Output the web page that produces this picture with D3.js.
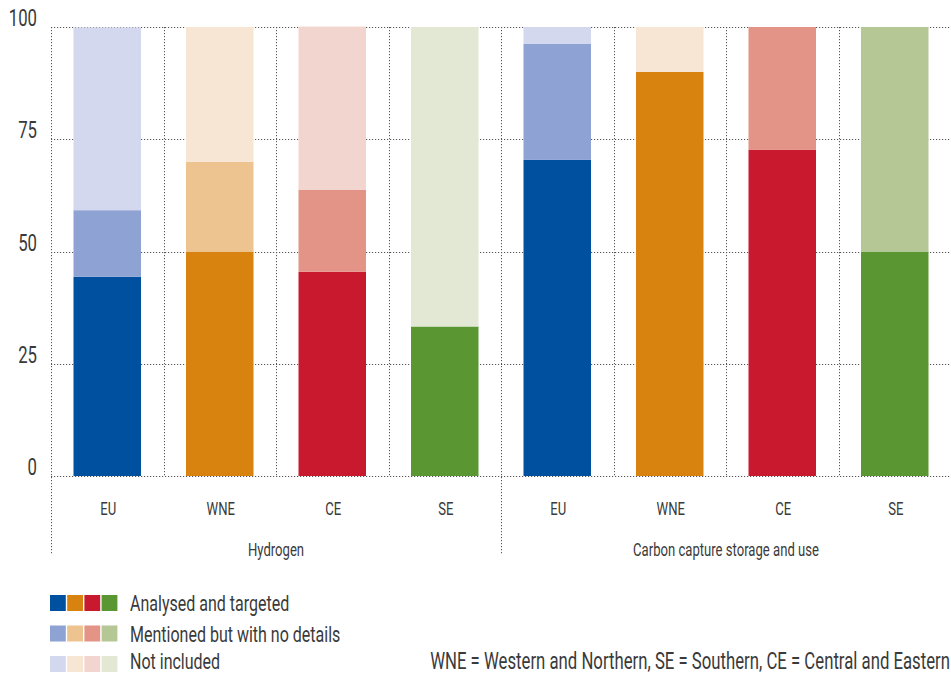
<!DOCTYPE html>
<html><head><meta charset="utf-8">
<script src="https://cdn.jsdelivr.net/npm/d3@7"></script>
<style>
body{margin:0;background:#fff;}
text{font-family:Roboto,"Liberation Sans",sans-serif;fill:#3a3a3a;}
</style></head><body>
<svg id="chart" width="951" height="676"></svg>
<script>
const groups = ["Hydrogen", "Carbon capture storage and use"];
const categories = ["EU", "WNE", "CE", "SE"];
// values per group, in category order (% of plans)
const analysed = [[44.4, 50, 45.5, 33.3], [70.4, 90, 72.7, 50]];
const mentioned = [[14.8, 20, 18.2, 0], [25.9, 0, 27.3, 50]];
const notIncluded = [[40.7, 30, 36.4, 66.7], [3.7, 10, 0, 0]];
const yTicks = [0, 25, 50, 75, 100];
const seriesNames = ["Analysed and targeted", "Mentioned but with no details", "Not included"];
const colors = {
  EU: ["#0050a0", "#8fa2d4", "#d3d8ee"],
  WNE: ["#d8820f", "#edc38f", "#f8e6d4"],
  CE: ["#c8192e", "#e49387", "#f3d5cf"],
  SE: ["#5a9632", "#b5c795", "#e3e8d5"]
};
const footnote = "WNE = Western and Northern, SE = Southern, CE = Central and Eastern";

const svg = d3.select("#chart");
const mLeft = 51, mRight = 951, mTop = 27, mBottom = 476;

// condensed-text factor: measure footnote at legend size, fit to reference width
const probe = svg.append("text").attr("font-size", 23).text(footnote);
const K = 520 / probe.node().getComputedTextLength();
probe.remove();

function addText(parent, px, py, str, size, anchor) {
  return parent.append("text")
    .attr("transform", `translate(${px},${py}) scale(${K},1)`)
    .attr("font-size", size).attr("text-anchor", anchor || "start").text(str);
}

const rows = [];
groups.forEach((g, gi) => categories.forEach((c, ci) => {
  rows.push({key: g + "|" + c, group: g, cat: c,
    vals: [analysed[gi][ci], mentioned[gi][ci], notIncluded[gi][ci]]});
}));

const x = d3.scaleBand().domain(rows.map(d => d.key)).range([mLeft, mRight])
  .paddingInner(0.4).paddingOuter(0.2);
const y = d3.scaleLinear().domain([0, 100]).range([mBottom, mTop]);
const step = x.step();

const grid = svg.append("g").attr("stroke", "#555").attr("stroke-dasharray", "1.2,1.8").attr("stroke-width", 1);
grid.selectAll("line.h").data(yTicks).join("line")
  .attr("x1", mLeft).attr("x2", mRight)
  .attr("y1", d => Math.round(y(d)) + 0.5).attr("y2", d => Math.round(y(d)) + 0.5);
const bounds = d3.range(rows.length + 1).map(i => mLeft + i * step);
grid.selectAll("line.v").data(bounds).join("line")
  .attr("x1", d => Math.round(d) + 0.5).attr("x2", d => Math.round(d) + 0.5)
  .attr("y1", mTop)
  .attr("y2", (d, i) => (i % categories.length === 0 && i < rows.length) ? 555 : mBottom);

const yl = svg.append("g");
yTicks.forEach(t => addText(yl, 37, y(t) - 1, t, 23, "end"));

const barG = svg.append("g");
rows.forEach(r => {
  let acc = 0;
  r.vals.forEach((v, si) => {
    if (v > 0) {
      barG.append("rect")
        .attr("x", x(r.key)).attr("width", x.bandwidth())
        .attr("y", y(acc + v)).attr("height", y(acc) - y(acc + v))
        .attr("fill", colors[r.cat][si]);
    }
    acc += v;
  });
});

const cl = svg.append("g");
rows.forEach(r => addText(cl, x(r.key) + x.bandwidth() / 2 + 1, 515, r.cat, 18, "middle"));

const gl = svg.append("g");
groups.forEach((g, i) => addText(gl, mLeft + step * categories.length * (i + 0.5), 556, g, 18, "middle"));

const lg = svg.append("g");
seriesNames.forEach((s, si) => {
  const yy = 595 + si * 30.5;
  categories.forEach((c, ci) => {
    lg.append("rect").attr("x", 50 + ci * 17.2).attr("y", yy).attr("width", 15.8).attr("height", 16)
      .attr("fill", colors[c][si]);
  });
  addText(lg, 130, Math.min(yy + 16, 669), s, 22, "start");
});
addText(svg, 950, 669, footnote, 23, "end");
</script></body></html>
